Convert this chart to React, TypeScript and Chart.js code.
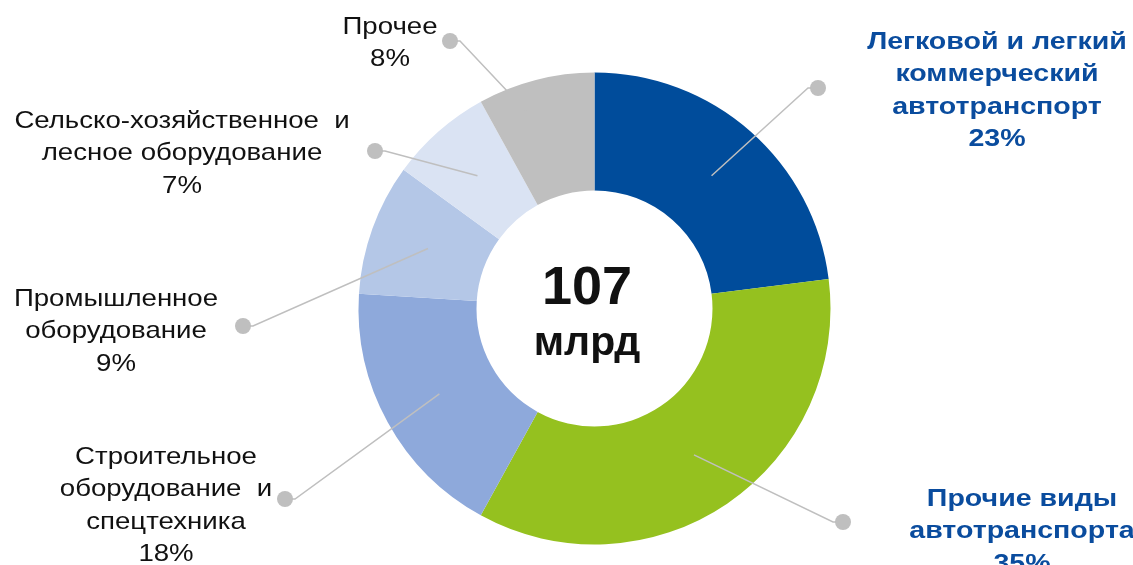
import React, { useEffect, useRef } from "react";
import { Chart, registerables } from "chart.js";

Chart.register(...registerables);

// ---- Data ----
const categories = [
  "Легковой и легкий коммерческий автотранспорт",
  "Прочие виды автотранспорта",
  "Строительное оборудование и спецтехника",
  "Промышленное оборудование",
  "Сельско-хозяйственное и лесное оборудование",
  "Прочее",
];
const shares = [23, 35, 18, 9, 7, 8];
const labelLines = [
  ["Легковой и легкий", "коммерческий", "автотранспорт"],
  ["Прочие виды", "автотранспорта"],
  ["Строительное", "оборудование  и", "спецтехника"],
  ["Промышленное", "оборудование"],
  ["Сельско-хозяйственное  и", "лесное оборудование"],
  ["Прочее"],
];
const totalValue = "107";
const totalUnit = "млрд";

// ---- Styles / layout ----
const colors = ["#004C9B", "#95C11F", "#8EA9DB", "#B4C7E7", "#DAE3F3", "#BFBFBF"];
const labelLayout = [
  { x: 997, y: 42, dotX: 818, dotY: 88, bold: true, color: "#0A4C9E" },
  { x: 1022, y: 499, dotX: 843, dotY: 522, bold: true, color: "#0A4C9E" },
  { x: 166, y: 457, dotX: 285, dotY: 499, bold: false, color: "#111111" },
  { x: 116, y: 299, dotX: 243, dotY: 326, bold: false, color: "#111111" },
  { x: 182, y: 121, dotX: 375, dotY: 151, bold: false, color: "#111111" },
  { x: 390, y: 27, dotX: 450, dotY: 41, bold: false, color: "#111111" },
];
const LINE_H = 32.5;
const FONT = "'Liberation Sans', Arial, sans-serif";

const labelsPlugin = {
  id: "donutLabels",
  afterDatasetsDraw(chart: any) {
    const ctx = chart.ctx as any;
    const meta = chart.getDatasetMeta(0);
    ctx.save();
    meta.data.forEach((arc: any, i: number) => {
      const p = arc.getProps(["x", "y", "startAngle", "endAngle", "innerRadius", "outerRadius"], true);
      const mid = (p.startAngle + p.endAngle) / 2;
      const r = (p.innerRadius + p.outerRadius) / 2;
      const sx = p.x + Math.cos(mid) * r;
      const sy = p.y + Math.sin(mid) * r;
      const L = labelLayout[i];
      const elbowX = L.dotX + (L.dotX > p.x ? -10 : 10);
      ctx.strokeStyle = "#BFBFBF";
      ctx.lineWidth = 1.5;
      ctx.beginPath();
      ctx.moveTo(sx, sy);
      ctx.lineTo(elbowX, L.dotY);
      ctx.lineTo(L.dotX, L.dotY);
      ctx.stroke();
      ctx.fillStyle = "#BFBFBF";
      ctx.beginPath();
      ctx.arc(L.dotX, L.dotY, 8, 0, Math.PI * 2);
      ctx.fill();

      // text (horizontally stretched like the original)
      const lines = [...labelLines[i], shares[i] + "%"];
      const stretch = L.bold ? 1.19 : 1.15;
      ctx.fillStyle = L.color;
      ctx.font = (L.bold ? "bold " : "") + "24px " + FONT;
      ctx.textAlign = "center";
      ctx.textBaseline = "middle";
      lines.forEach((t, k) => {
        ctx.save();
        ctx.translate(L.x, L.y + k * LINE_H);
        ctx.scale(stretch, 1);
        ctx.fillText(t, 0, 0);
        ctx.restore();
      });
    });

    // center text
    const a0 = meta.data[0];
    const cx = a0.x - 7.5;
    const cy = a0.y;
    ctx.fillStyle = "#111111";
    ctx.textAlign = "center";
    ctx.textBaseline = "alphabetic";
    ctx.font = "bold 54px " + FONT;
    ctx.fillText(totalValue, cx, cy - 4.5);
    ctx.font = "bold 41px " + FONT;
    ctx.fillText(totalUnit, cx, cy + 46.5);
    ctx.restore();
  },
};

export default function App() {
  const ref = useRef<HTMLCanvasElement | null>(null);
  useEffect(() => {
    document.body.style.margin = "0";
    const canvas = ref.current!;
    const chart = new Chart(canvas, {
      type: "doughnut",
      data: {
        labels: categories,
        datasets: [
          {
            data: shares,
            backgroundColor: colors,
            borderWidth: 0,
          },
        ],
      },
      options: {
        responsive: false,
        animation: false,
        cutout: "50%",
        layout: { padding: { top: 72.5, bottom: 20.5, left: 300, right: 244 } },
        plugins: {
          legend: { display: false },
          tooltip: { enabled: false },
        },
      },
      plugins: [labelsPlugin],
    });
    return () => chart.destroy();
  }, []);
  return (
    <div style={{ width: 1133, height: 565, background: "#fff" }}>
      <canvas ref={ref} width={1133} height={565} style={{ display: "block" }} />
    </div>
  );
}
